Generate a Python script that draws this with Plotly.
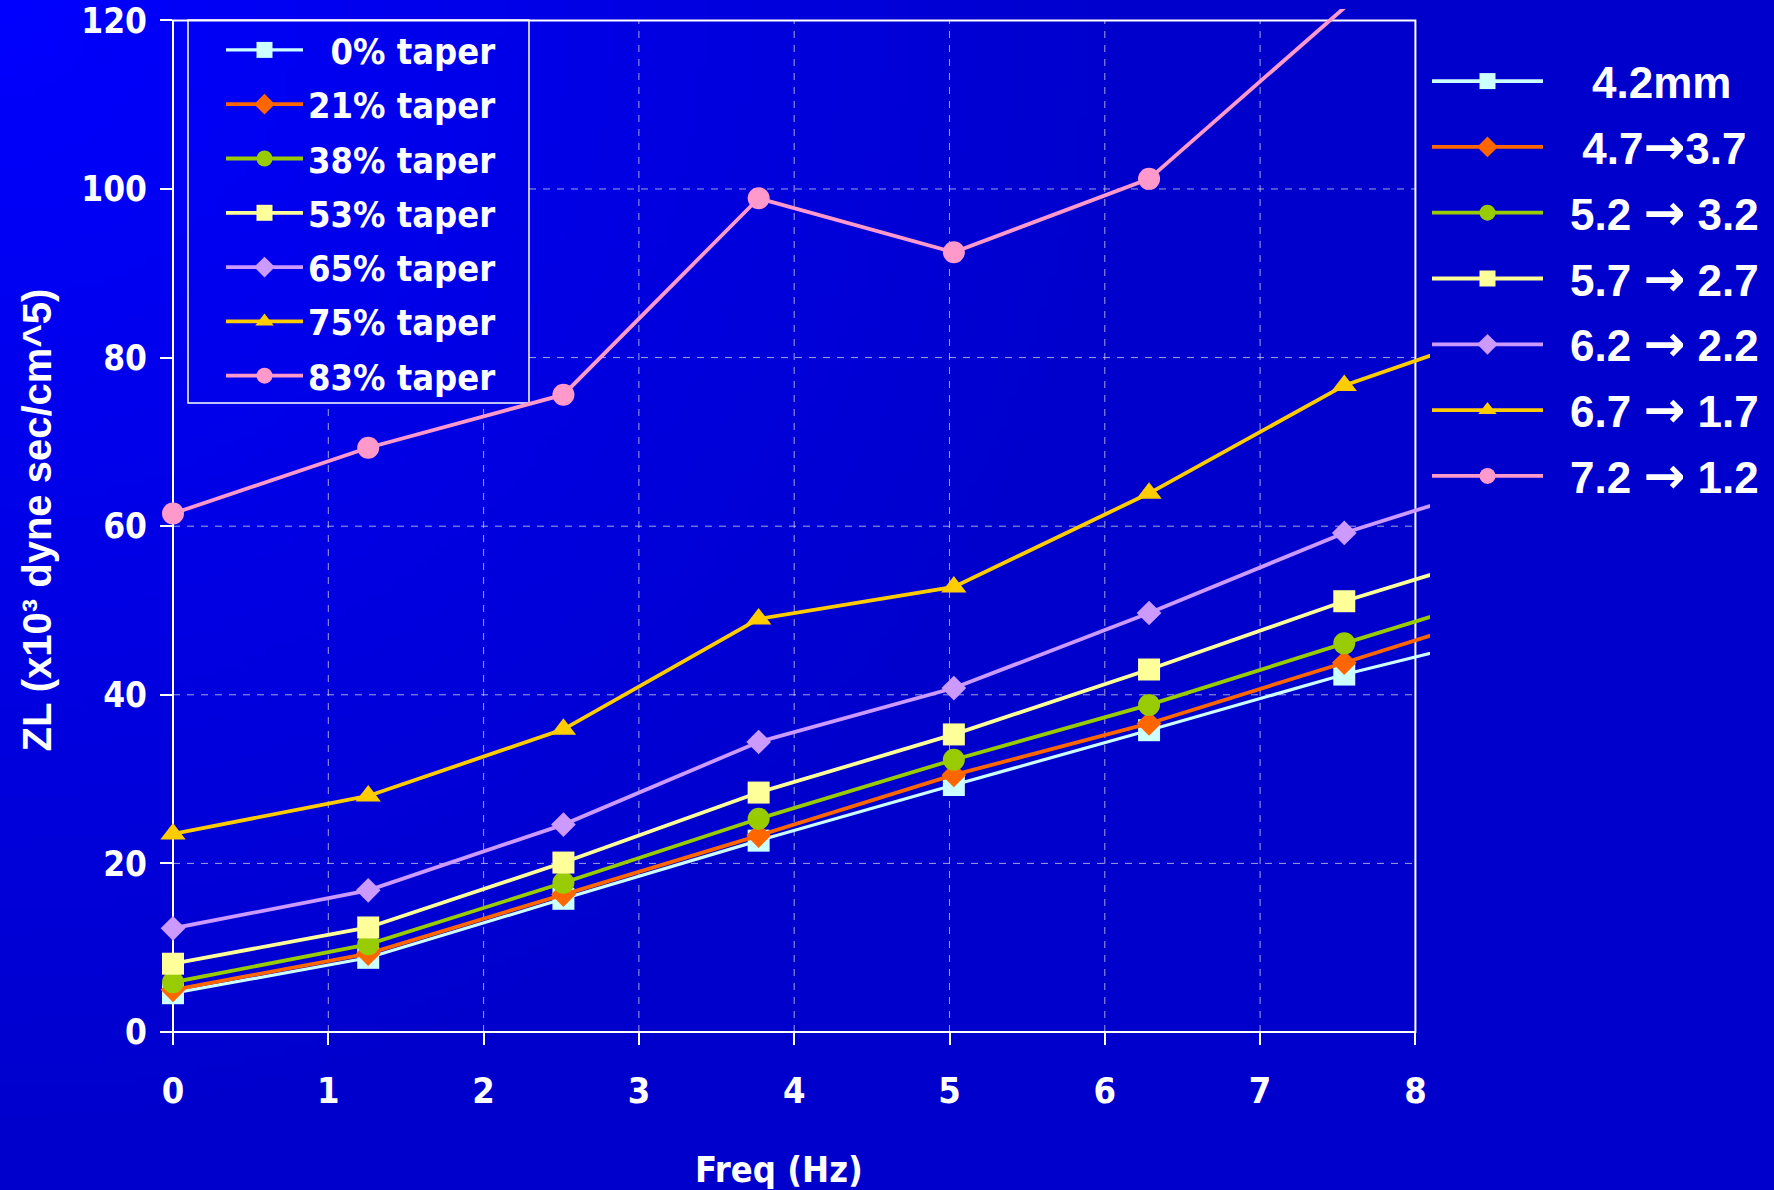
import base64
import math
import struct
import zlib

import plotly.graph_objects as go

# ---------------------------------------------------------------- data
freq_hz = [0, 1.257, 2.514, 3.771, 5.028, 6.285, 7.542, 8.799]

zl_taper_0 = [4.6, 8.8, 15.8, 22.7, 29.3, 35.8, 42.4, 48.1]
zl_taper_21 = [5.0, 9.3, 16.3, 23.3, 30.5, 36.6, 43.8, 51.1]
zl_taper_38 = [5.9, 10.4, 17.7, 25.3, 32.3, 38.8, 46.1, 53.2]
zl_taper_53 = [8.1, 12.4, 20.1, 28.4, 35.3, 43.0, 51.1, 58.2]
zl_taper_65 = [12.3, 16.8, 24.6, 34.4, 40.8, 49.7, 59.2, 66.5]
zl_taper_75 = [23.5, 28.0, 35.9, 49.0, 52.8, 63.9, 76.7, 84.7]
zl_taper_83 = [61.5, 69.3, 75.6, 98.9, 92.5, 101.2, 121.5, None]

ARROW = '<span style="font-family:DejaVu Sans;font-size:50px">\u2192</span>'

taper_labels = ["\u20070% taper", "21% taper", "38% taper", "53% taper",
                "65% taper", "75% taper", "83% taper"]
diameter_labels = ["\u2002\u20024.2mm",
                   "\u2002\u00a04.7" + ARROW + "3.7",
                   "\u20025.2 " + ARROW + " 3.2",
                   "\u20025.7 " + ARROW + " 2.7",
                   "\u20026.2 " + ARROW + " 2.2",
                   "\u20026.7 " + ARROW + " 1.7",
                   "\u20027.2 " + ARROW + " 1.2"]

x_ticks = [0, 1, 2, 3, 4, 5, 6, 7, 8]
y_ticks = [0, 20, 40, 60, 80, 100, 120]

series = [zl_taper_0, zl_taper_21, zl_taper_38, zl_taper_53,
          zl_taper_65, zl_taper_75, zl_taper_83]

# ---------------------------------------------------------------- styles
colors = ["#CCFFFF", "#FF6600", "#99CC00", "#FFFF99", "#CC99FF", "#FFCC00", "#FF99CC"]
symbols = ["square", "diamond", "circle", "square", "diamond", "triangle-up", "circle"]
marker_sizes = [22, 19, 22, 22, 19, 22, 22]
line_widths = [3.2, 3.8, 3.8, 3.8, 3.8, 3.8, 3.8]

FIG_W, FIG_H = 1774, 1190
PLOT_L, PLOT_T, PLOT_R, PLOT_B = 173, 9, 1430, 1032
PLOT_W, PLOT_H = PLOT_R - PLOT_L, PLOT_B - PLOT_T
X_RANGE = [0, 8.094]
Y_RANGE = [0, 121.35]
FRAME_X = [0, 8]
FRAME_Y = [0, 120]

BG_DARK = 204
BG_BRIGHT = 255
GLOW_RADIUS = 1150

WHITE = "white"
GRID_COLOR = "rgba(215,215,235,0.75)"
TEXT_FONT = "DejaVu Sans Condensed, DejaVu Sans, sans-serif"
ARIAL_FONT = "Liberation Sans, Arial, sans-serif"

# legend box (pixels)
LEG1_BOX = (188, 20, 529, 403)
LEG1_POS = (221, 20)
LEG2_POS = (1427, 46)


def px_x(px):
    return (px - PLOT_L) / PLOT_W


def px_y(py):
    return (PLOT_B - py) / PLOT_H


def dx(v):
    return (v - X_RANGE[0]) / (X_RANGE[1] - X_RANGE[0])


def dy(v):
    return (v - Y_RANGE[0]) / (Y_RANGE[1] - Y_RANGE[0])


def glow_png(w, h):
    """Blue backdrop that brightens toward the top-left corner."""
    raw = bytearray()
    for j in range(h):
        raw.append(0)
        for i in range(w):
            fx = (i + 0.5) / w * FIG_W
            fy = (j + 0.5) / h * FIG_H
            t = max(0.0, 1 - math.hypot(fx, fy) / GLOW_RADIUS)
            b = int(round(BG_DARK + (BG_BRIGHT - BG_DARK) * t))
            raw += bytes((0, 0, b))

    def chunk(tag, data):
        body = tag + data
        return struct.pack(">I", len(data)) + body + struct.pack(">I", zlib.crc32(body) & 0xFFFFFFFF)

    png = (b"\x89PNG\r\n\x1a\n"
           + chunk(b"IHDR", struct.pack(">IIBBBBB", w, h, 8, 2, 0, 0, 0))
           + chunk(b"IDAT", zlib.compress(bytes(raw), 9))
           + chunk(b"IEND", b""))
    return "data:image/png;base64," + base64.b64encode(png).decode()


fig = go.Figure()

# measured series (left legend)
for i, vals in enumerate(series):
    fig.add_trace(go.Scatter(
        x=freq_hz, y=vals, name=taper_labels[i], mode="lines+markers",
        line=dict(color=colors[i], width=line_widths[i]),
        marker=dict(symbol=symbols[i], size=marker_sizes[i], color=colors[i], line=dict(width=0)),
        cliponaxis=False, connectgaps=False,
        legend="legend", legendgroup="taper%d" % i,
    ))

# diameter key (right legend)
for i, lbl in enumerate(diameter_labels):
    fig.add_trace(go.Scatter(
        x=[None], y=[None], name=lbl, mode="lines+markers",
        line=dict(color=colors[i], width=3.8),
        marker=dict(symbol=symbols[i], size=30, color=colors[i], line=dict(width=0)),
        legend="legend2", legendgroup="diam%d" % i,
    ))

# ---------------------------------------------------------------- shapes
shapes = []
box_x0, box_x1 = px_x(LEG1_BOX[0]), px_x(LEG1_BOX[2])
box_y0, box_y1 = px_y(LEG1_BOX[3]), px_y(LEG1_BOX[1])
grid_line = dict(color=GRID_COLOR, width=1, dash="7px,7px")

for xv in x_ticks:
    if xv in FRAME_X:
        continue
    top = dy(FRAME_Y[1])
    if box_x0 <= dx(xv) <= box_x1:
        top = box_y0
    shapes.append(dict(type="line", xref="paper", yref="paper", layer="below",
                       x0=dx(xv), x1=dx(xv), y0=dy(FRAME_Y[0]), y1=top, line=grid_line))
for yv in y_ticks:
    if yv in FRAME_Y:
        continue
    left = dx(FRAME_X[0])
    if box_y0 <= dy(yv) <= box_y1:
        left = box_x1
    shapes.append(dict(type="line", xref="paper", yref="paper", layer="below",
                       x0=left, x1=dx(FRAME_X[1]), y0=dy(yv), y1=dy(yv), line=grid_line))

# plot frame
shapes.append(dict(type="rect", xref="paper", yref="paper", layer="below",
                   x0=dx(FRAME_X[0]), x1=dx(FRAME_X[1]), y0=dy(FRAME_Y[0]), y1=dy(FRAME_Y[1]),
                   line=dict(color=WHITE, width=2), fillcolor="rgba(0,0,0,0)"))
# left legend frame
shapes.append(dict(type="rect", xref="paper", yref="paper", layer="below",
                   x0=box_x0, x1=box_x1, y0=box_y0, y1=box_y1,
                   line=dict(color=WHITE, width=1.5), fillcolor="rgba(0,0,0,0)"))

annotations = [
    dict(text="ZL (x10\u00b3 dyne sec/cm^5)", xref="paper", yref="paper",
         x=px_x(36), y=0.5, xanchor="center", yanchor="middle", textangle=-90,
         showarrow=False, font=dict(family=ARIAL_FONT, size=40, color=WHITE, weight="bold")),
    dict(text="Freq (Hz)", xref="paper", yref="paper",
         x=px_x(779), y=px_y(1170), xanchor="center", yanchor="middle",
         showarrow=False, font=dict(family=TEXT_FONT, size=36, color=WHITE, weight="bold")),
]

tick_font = dict(family=TEXT_FONT, size=36, color=WHITE, weight="bold")

fig.update_layout(
    width=FIG_W, height=FIG_H,
    margin=dict(l=PLOT_L, r=FIG_W - PLOT_R, t=PLOT_T, b=FIG_H - PLOT_B, autoexpand=False),
    paper_bgcolor="#0000CC", plot_bgcolor="rgba(0,0,0,0)",
    hovermode=False,
    showlegend=True,
    xaxis=dict(range=X_RANGE, tickvals=x_ticks, ticks="outside", ticklen=12,
               tickcolor=WHITE, tickwidth=1.5, showgrid=False, zeroline=False,
               showline=False, tickfont=tick_font, ticklabelstandoff=15, fixedrange=True),
    yaxis=dict(range=Y_RANGE, tickvals=y_ticks, ticks="outside", ticklen=12,
               tickcolor=WHITE, tickwidth=1.5, showgrid=False, zeroline=False,
               showline=False, tickfont=dict(tick_font, size=35), ticklabelstandoff=6,
               fixedrange=True),
    legend=dict(x=px_x(LEG1_POS[0]), y=px_y(LEG1_POS[1]), xanchor="left", yanchor="top",
                bgcolor="rgba(0,0,0,0)", borderwidth=0, itemwidth=77,
                traceorder="grouped", tracegroupgap=4.5,
                font=dict(family=TEXT_FONT, size=36, color=WHITE, weight="bold")),
    legend2=dict(x=px_x(LEG2_POS[0]), y=px_y(LEG2_POS[1]), xanchor="left", yanchor="top",
                 bgcolor="rgba(0,0,0,0)", borderwidth=0, itemwidth=111,
                 traceorder="grouped", tracegroupgap=5.6,
                 font=dict(family=ARIAL_FONT, size=44, color=WHITE, weight="bold")),
    shapes=shapes,
    annotations=annotations,
    images=[dict(source=glow_png(177, 119), xref="paper", yref="paper",
                 x=px_x(0), y=px_y(0), sizex=FIG_W / PLOT_W, sizey=FIG_H / PLOT_H,
                 xanchor="left", yanchor="top", sizing="stretch", layer="below")],
)

fig.write_html("out.html")
